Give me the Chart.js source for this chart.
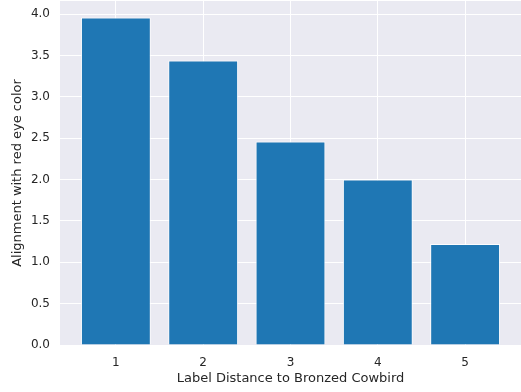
<!DOCTYPE html>
<html>
<head>
<meta charset="utf-8">
<script src="https://cdn.jsdelivr.net/npm/chart.js@4"></script>
<style>
  html, body { margin: 0; padding: 0; background: #fff; }
  #wrap { width: 521px; height: 392px; }
</style>
</head>
<body>
<div id="wrap"><canvas id="myChart" width="521" height="392"></canvas></div>
<script>
// data
const distances = [1, 2, 3, 4, 5];
const alignment = [3.96, 3.44, 2.46, 2.00, 1.22];
const yTicks = [0, 0.5, 1, 1.5, 2, 2.5, 3, 3.5, 4];

const xLabel = 'Label Distance to Bronzed Cowbird';
const yLabel = 'Alignment with red eye color';

// grey plot background like seaborn darkgrid
const plotBg = {
    id: 'plotBg',
    beforeDraw(chart) {
        const a = chart.chartArea;
        const ctx = chart.ctx;
        ctx.save();
        ctx.fillStyle = '#eaeaf2';
        ctx.fillRect(a.left, a.top, a.right - a.left, a.bottom - a.top);
        ctx.restore();
    }
};

const font = { family: 'DejaVu Sans', size: 12 };
const textColor = '#262626';

// no extra padding from edge tick labels
function noPad(s) {
    s.paddingTop = 0; s.paddingBottom = 0;
    s.paddingLeft = 0; s.paddingRight = 0;
}

new Chart(document.getElementById('myChart').getContext('2d'), {
    type: 'bar',
    data: {
        datasets: [{
            data: distances.map((d, i) => ({ x: d, y: alignment[i] })),
            backgroundColor: '#1f77b4',
            borderColor: 'rgba(255,255,255,0.85)',
            borderWidth: 1,
            barPercentage: 0.8,
            categoryPercentage: 1.0
        }]
    },
    options: {
        responsive: false,
        animation: false,
        layout: { padding: { top: 1, right: 0, left: 0, bottom: 0 } },
        plugins: { legend: { display: false }, tooltip: { enabled: false } },
        scales: {
            x: {
                type: 'linear',
                offset: false,
                min: 0.36,
                max: 5.64,
                afterBuildTicks: s => { s.ticks = distances.map(v => ({ value: v })); },
                afterFit: s => { s.height = 47; noPad(s); },
                grid: { color: '#ffffff', lineWidth: 1, drawTicks: false, offset: false },
                border: { display: false },
                ticks: { font: font, color: textColor, padding: 11, callback: v => String(v) },
                title: { display: true, text: xLabel, font: { family: 'DejaVu Sans', size: 13 }, color: textColor, padding: { top: 0, bottom: 6 } }
            },
            y: {
                min: 0,
                max: 4.158,
                afterBuildTicks: s => { s.ticks = yTicks.map(v => ({ value: v })); },
                afterFit: s => { s.width = 60; noPad(s); },
                grid: { color: '#ffffff', lineWidth: 1, drawTicks: false },
                border: { display: false },
                ticks: { font: font, color: textColor, padding: 10, callback: v => v.toFixed(1) },
                title: { display: true, text: yLabel, font: { family: 'DejaVu Sans', size: 13 }, color: textColor, padding: { top: 10, bottom: 0 } }
            }
        }
    },
    plugins: [plotBg]
});
</script>
</body>
</html>
